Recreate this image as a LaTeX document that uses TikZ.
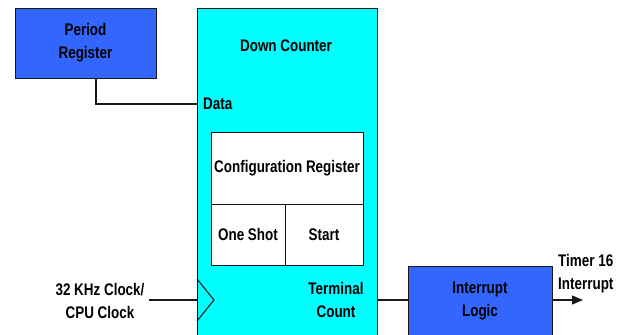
\documentclass[tikz,border=0pt]{standalone}
\usepackage{fontspec}
\setmainfont[FakeStretch=0.8]{Liberation Sans}
\usetikzlibrary{arrows.meta}
\definecolor{regblue}{HTML}{3366FF}
\definecolor{cntcyan}{HTML}{00FFFF}
\tikzset{
  box/.style={draw=black!90, line width=1pt, rectangle, inner sep=0pt},
  bluebox/.style={box, fill=regblue, minimum width=141pt, minimum height=70pt, align=center},
  whitebox/.style={box, fill=white, align=center},
  lbl/.style={align=center, inner sep=2pt},
  wire/.style={line width=1.1pt, draw=black!90},
}
\begin{document}
\begin{tikzpicture}[x=1pt, y=-1pt, every node/.append style={font=\fontsize{16.8}{23}\selectfont\bfseries}]
  \clip (0,0) rectangle (633,335);
  \fill[white] (0,0) rectangle (633,335);

  % counter body
  \node[box, fill=cntcyan, minimum width=180pt, minimum height=332pt] (cnt) at (287,174) {};
  \node[lbl] (cntname) at (286,46) {Down Counter};
  \node[lbl, anchor=west, inner sep=0pt] (data) at (203,104) {Data};

  % configuration block
  \node[whitebox, minimum width=152pt, minimum height=72pt] (cfg) at (287,168) {Configuration Register};
  \node[whitebox, minimum width=74pt, minimum height=61pt] (oneshot) at (248,234.5) {One Shot};
  \node[whitebox, minimum width=78pt, minimum height=61pt] (start) at (324,234.5) {Start};

  % clock input marker
  \draw[wire] (197,279) -- (214,300) -- (197,321);
  \node[lbl] (tc) at (336,300) {Terminal\\Count};

  % period register and interrupt logic
  \node[bluebox] (per) at (85.5,43) {Period\\Register};
  \node[bluebox, minimum width=144pt] (intr) at (480,301) {Interrupt\\Logic};

  % clock source label
  \node[lbl, inner sep=4pt] (clk) at (100,301) {32 KHz Clock/\\CPU Clock};
  \node[lbl, anchor=west, align=left, inner sep=0pt] (tmr) at (558,274) {Timer 16\\Interrupt};
  \coordinate (irqout) at (583,300);

  % connections
  \draw[wire] ([xshift=10.5pt]per.south) |- (cnt.west |- data.west);
  \draw[wire] (clk.east |- 0,300) -- (cnt.west |- 0,300);
  \draw[wire] (cnt.east |- 0,300) -- (intr.west |- 0,300);
  \draw[wire, -{Triangle[length=11pt, width=9pt]}] (intr.east |- 0,300) -- (irqout);
\end{tikzpicture}
\end{document}
